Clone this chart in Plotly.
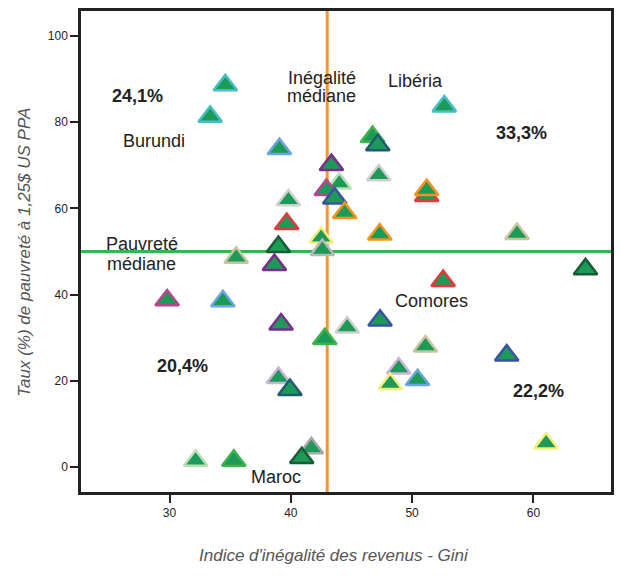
import plotly.graph_objects as go

# Gini index (x), poverty rate % at $1.25 PPP (y), outline colour of each marker
gini = [34.6, 33.35, 39.06, 43.35, 44.0, 42.93, 43.62, 44.44, 39.8, 39.66,
        42.5, 38.98, 42.6, 46.74, 47.17, 47.25, 51.2, 51.2, 47.33, 58.65,
        52.66, 35.5, 38.65, 29.8, 34.4, 39.2, 42.8, 44.65, 38.98, 39.93,
        32.15, 35.3, 41.7, 40.9, 64.3, 52.56, 47.36, 51.1, 48.9, 48.2,
        50.45, 57.8, 61.05]
pauvrete = [88.6, 81.3, 73.8, 70.1, 65.8, 64.3, 62.35, 58.96, 61.9, 56.4,
            53.2, 51.1, 50.4, 76.6, 74.7, 67.7, 62.9, 64.3, 54.0, 54.1,
            83.7, 48.6, 46.9, 38.7, 38.5, 33.1, 29.7, 32.4, 20.7, 17.9,
            1.5, 1.5, 4.4, 2.1, 45.9, 43.2, 34.0, 28.0, 22.9, 19.3,
            20.2, 25.9, 5.5]
contour = ["#45bfc6", "#45bfc6", "#6aa6dc", "#7a2d8c", "#b9e0b5", "#b5468e", "#3953a4", "#f7941d", "#cfcfcf", "#e8383d",
           "#f2ef7a", "#175c33", "#b8b8b8", "#3cb44b", "#1f5c72", "#cfcfcf", "#e8383d", "#f7941d", "#f7941d", "#c9c49b",
           "#45bfc6", "#c9c49b", "#7a2d8c", "#b5468e", "#6aa6dc", "#7a2d8c", "#3cb44b", "#cfcfcf", "#cdb3da", "#1f5c72",
           "#b9e0b5", "#3cb44b", "#a8a8a8", "#175c33", "#175c33", "#e8383d", "#3953a4", "#c9c49b", "#cdb3da", "#f2ef7a",
           "#6aa6dc", "#3953a4", "#f2ef7a"]

gini_median = 43.0
pauvrete_median = 50.0

x_ticks = [30, 40, 50, 60]
y_ticks = [0, 20, 40, 60, 80, 100]

labels = ["24,1%", "Burundi", "Inégalité", "médiane", "Libéria", "33,3%",
          "Pauvreté", "médiane", "Comores", "20,4%", "22,2%", "Maroc"]
label_x = [27.35, 28.7, 42.6, 42.55, 50.25, 59.0, 27.75, 27.7, 51.57, 31.1, 60.4, 38.77]
label_y = [86.0, 75.6, 90.2, 86.0, 89.5, 77.4, 51.8, 47.2, 38.6, 23.35, 17.65, -2.24]
label_bold = [True, False, False, False, False, True, False, False, False, True, True, False]

X_MIN, X_MAX = 22.7, 66.4
Y_MIN, Y_MAX = -5.8, 105.8

fig = go.Figure()

# median lines
fig.add_trace(go.Scatter(x=[gini_median, gini_median], y=[Y_MIN, Y_MAX], mode="lines",
                         line=dict(color="#f7962f", width=3), hoverinfo="skip", showlegend=False))
fig.add_trace(go.Scatter(x=[X_MIN, X_MAX], y=[pauvrete_median, pauvrete_median], mode="lines",
                         line=dict(color="#3cb44b", width=3), hoverinfo="skip", showlegend=False))

fig.add_trace(go.Scatter(
    x=gini, y=pauvrete, mode="markers",
    marker=dict(symbol="triangle-up", size=20.5, color="#1d9a57",
                line=dict(color=contour, width=2.5)),
    showlegend=False))

for t, lx, ly, b in zip(labels, label_x, label_y, label_bold):
    fig.add_annotation(x=lx, y=ly, xref="x", yref="y", text=(f"<b>{t}</b>" if b else t),
                       showarrow=False, xanchor="center", yanchor="middle",
                       font=dict(family="Liberation Sans, Arial, sans-serif",
                                 size=18, color="#222222"),
                       align="center")

# plot area: page px 81..614 horizontally, 10..492 vertically (page has 8px body margin)
PW, PH = 533, 482
fig.add_annotation(x=(335 - 81) / PW, y=(492 - 556) / PH, xref="paper", yref="paper",
                   xanchor="center", yanchor="middle",
                   text="<i>Indice d'inégalité des revenus - Gini</i>", showarrow=False,
                   font=dict(family="Liberation Sans, Arial, sans-serif", size=17, color="#555555"))
fig.add_annotation(x=(24 - 81) / PW, y=(492 - 252) / PH, xref="paper", yref="paper",
                   xanchor="center", yanchor="middle",
                   text="<i>Taux (%) de pauvreté à 1,25$ US PPA</i>", showarrow=False, textangle=-90,
                   font=dict(family="Liberation Sans, Arial, sans-serif", size=17, color="#555555"))

fig.update_layout(
    width=606, height=560,
    margin=dict(l=73, r=0, t=2, b=76),
    paper_bgcolor="white", plot_bgcolor="white",
    font=dict(family="Liberation Sans, Arial, sans-serif", color="#222222"),
    xaxis=dict(range=[X_MIN, X_MAX], tickvals=x_ticks, ticks="outside", ticklen=8, tickwidth=1.5,
               tickcolor="#222222", showgrid=False, zeroline=False, showline=True, linecolor="#222222",
               linewidth=2.5, mirror=True, tickfont=dict(size=12, color="#222222")),
    yaxis=dict(range=[Y_MIN, Y_MAX], tickvals=y_ticks, ticks="outside", ticklen=8, tickwidth=1.5,
               tickcolor="#222222", showgrid=False, zeroline=False, showline=True, linecolor="#222222",
               linewidth=2.5, mirror=True, tickfont=dict(size=12, color="#222222")),
)

fig.write_html("out.html")
